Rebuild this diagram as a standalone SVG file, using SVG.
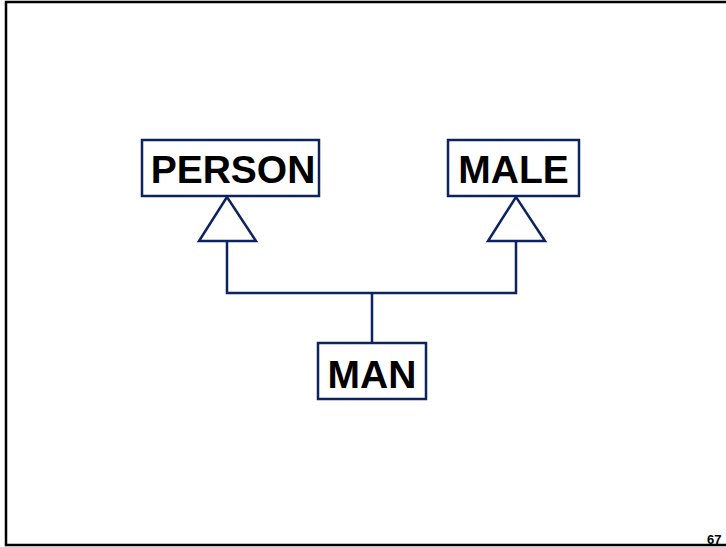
<svg xmlns="http://www.w3.org/2000/svg" width="726" height="547" viewBox="0 0 726 547">
  <style>
    .box { fill: #ffffff; stroke: #0d2260; stroke-width: 2.5; }
    .tri { fill: #ffffff; stroke: #0d2260; stroke-width: 2.5; stroke-linejoin: miter; }
    .wire { fill: none; stroke: #0d2260; stroke-width: 2.5; }
    .label { font-family: "Liberation Sans", Arial, sans-serif; font-weight: bold; font-size: 39px; fill: #000000; text-anchor: middle; }
    .page { font-family: "Liberation Sans", Arial, sans-serif; font-weight: bold; font-size: 13px; fill: #000000; }
  </style>
  <rect width="726" height="547" fill="#ffffff"/>
  <!-- slide frame -->
  <rect x="6" y="2" width="726" height="543" fill="none" stroke="#000000" stroke-width="2.5"/>
  <text class="page" x="707" y="544">67</text>

  <g id="connectors">
    <polyline class="wire" points="227,241 227,293 516,293 516,241"/>
    <line class="wire" x1="372" y1="293" x2="372" y2="343"/>
    <polygon class="tri" points="227,197 199,241 256,241"/>
    <polygon class="tri" points="516,197 488,241 545,241"/>
  </g>

  <g id="person">
    <rect class="box" x="142" y="140" width="177" height="56"/>
    <text class="label" x="233" y="183">PERSON</text>
  </g>
  <g id="male">
    <rect class="box" x="448" y="140" width="131" height="56"/>
    <text class="label" x="513.5" y="183">MALE</text>
  </g>
  <g id="man">
    <rect class="box" x="318" y="343" width="108" height="56"/>
    <text class="label" x="372" y="388">MAN</text>
  </g>
</svg>
